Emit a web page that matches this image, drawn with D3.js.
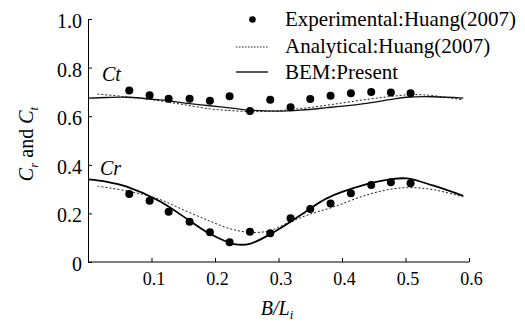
<!DOCTYPE html>
<html>
<head>
<meta charset="utf-8">
<script src="https://cdn.jsdelivr.net/npm/d3@7"></script>
</head>
<body style="margin:0;background:#fff">
<svg id="chart" width="525" height="324" font-family="Liberation Serif" style="display:block"></svg>
<script>
// Tick values
const xTicks = [0.1, 0.2, 0.3, 0.4, 0.5, 0.6];
const yTicks = [0, 0.2, 0.4, 0.6, 0.8, 1.0];

// Experimental data, Huang (2007)
const expB  = [0.065, 0.097, 0.127, 0.160, 0.192, 0.223, 0.255, 0.287, 0.319, 0.350, 0.382, 0.414, 0.446, 0.477, 0.508];
const expCt = [0.706, 0.686, 0.672, 0.672, 0.664, 0.682, 0.621, 0.668, 0.637, 0.671, 0.684, 0.694, 0.700, 0.698, 0.694];
const expCr = [0.280, 0.252, 0.207, 0.166, 0.122, 0.081, 0.125, 0.118, 0.180, 0.218, 0.241, 0.283, 0.317, 0.328, 0.324];

// Analytical solution, Huang (2007)
const anaB  = [0.015, 0.060, 0.108, 0.150, 0.192, 0.225, 0.255, 0.285, 0.318, 0.350, 0.386, 0.439, 0.480, 0.512, 0.545, 0.591];
const anaCt = [0.691, 0.680, 0.665, 0.648, 0.630, 0.623, 0.619, 0.620, 0.627, 0.636, 0.649, 0.669, 0.682, 0.689, 0.684, 0.667];
const anaCr = [0.312, 0.293, 0.262, 0.215, 0.168, 0.136, 0.122, 0.128, 0.165, 0.197, 0.226, 0.276, 0.301, 0.306, 0.297, 0.268];

// BEM results (present)
const bemB  = [0.000, 0.030, 0.061, 0.113, 0.160, 0.192, 0.230, 0.255, 0.297, 0.335, 0.376, 0.439, 0.475, 0.502, 0.543, 0.591];
const bemCt = [0.674, 0.677, 0.678, 0.667, 0.652, 0.643, 0.632, 0.625, 0.621, 0.625, 0.635, 0.653, 0.668, 0.678, 0.680, 0.674];
const bemCr = [0.340, 0.330, 0.310, 0.250, 0.170, 0.116, 0.074, 0.075, 0.130, 0.193, 0.262, 0.320, 0.340, 0.344, 0.315, 0.272];

const FONT = "Liberation Serif";
const svg = d3.select("#chart");
const x = d3.scaleLinear().domain([0, 0.6]).range([88, 469]);
const y = d3.scaleLinear().domain([0, 1.0]).range([262, 19]);

// Axes with inward ticks
const xAxis = svg.append("g").attr("transform", `translate(0,${y(0)})`)
  .call(d3.axisBottom(x).tickValues(xTicks).tickSizeInner(-4).tickSizeOuter(0).tickFormat(d3.format(".1f")));
xAxis.attr("font-family", FONT).attr("font-size", 18);
xAxis.select(".domain").attr("d", `M${x(0)},0H${x(0.6)}`);
xAxis.selectAll("text").attr("y", 23).attr("dy", 0).attr("dx", 2);

const yAxis = svg.append("g").attr("transform", `translate(${x(0)},0)`)
  .call(d3.axisLeft(y).tickValues(yTicks).tickSizeInner(-4).tickSizeOuter(0)
    .tickFormat(d => d === 0 ? "0" : d3.format(".1f")(d)));
yAxis.attr("font-family", FONT).attr("font-size", 20);
yAxis.selectAll("text").attr("x", -6).attr("dy", "0.42em");
svg.selectAll(".domain, .tick line").attr("stroke", "#000").attr("stroke-width", 1);

// Curves
const lineOf = (xs, ys) => d3.line().curve(d3.curveCatmullRom.alpha(0.5))
  .x((d, i) => x(xs[i])).y(d => y(d))(ys);

const curves = [
  { xs: anaB, ys: anaCt, dash: "2,2", w: 1, c: "#222" },
  { xs: anaB, ys: anaCr, dash: "2,2", w: 1, c: "#222" },
  { xs: bemB, ys: bemCt, dash: null, w: 1.3, c: "#111" },
  { xs: bemB, ys: bemCr, dash: null, w: 1.8, c: "#000" }
];
svg.append("g").selectAll("path").data(curves).join("path")
  .attr("d", d => lineOf(d.xs, d.ys))
  .attr("fill", "none")
  .attr("stroke", d => d.c)
  .attr("stroke-width", d => d.w)
  .attr("stroke-dasharray", d => d.dash);

// Experimental points
const pts = svg.append("g");
pts.selectAll("circle.ct").data(expCt).join("circle").attr("class", "ct")
  .attr("cx", (d, i) => x(expB[i])).attr("cy", d => y(d)).attr("r", 4).attr("fill", "#000");
pts.selectAll("circle.cr").data(expCr).join("circle").attr("class", "cr")
  .attr("cx", (d, i) => x(expB[i])).attr("cy", d => y(d)).attr("r", 4).attr("fill", "#000");

// Curve labels
svg.append("text").attr("x", 102).attr("y", 81).attr("font-family", FONT)
  .attr("font-size", 20).attr("font-style", "italic").text("Ct");
svg.append("text").attr("x", 100).attr("y", 175).attr("font-family", FONT)
  .attr("font-size", 20).attr("font-style", "italic").text("Cr");

// Legend
const legend = svg.append("g").attr("font-family", FONT).attr("font-size", 21);
legend.append("circle").attr("cx", 252.5).attr("cy", 19.5).attr("r", 3.3).attr("fill", "#000");
legend.append("text").attr("x", 285).attr("y", 26).text("Experimental:Huang(2007)");
legend.append("line").attr("x1", 236).attr("x2", 268).attr("y1", 47).attr("y2", 47)
  .attr("stroke", "#222").attr("stroke-width", 1).attr("stroke-dasharray", "1.5,1.5");
legend.append("text").attr("x", 285).attr("y", 53).text("Analytical:Huang(2007)");
legend.append("line").attr("x1", 236).attr("x2", 268).attr("y1", 72).attr("y2", 72)
  .attr("stroke", "#000").attr("stroke-width", 1.3);
legend.append("text").attr("x", 285).attr("y", 79).text("BEM:Present");

// Axis titles
const yt = svg.append("text").attr("transform", "translate(33,144) rotate(-90)")
  .attr("text-anchor", "middle").attr("font-family", FONT).attr("font-size", 20);
yt.append("tspan").attr("font-style", "italic").text("C");
yt.append("tspan").attr("dy", 5).attr("font-size", 13).attr("font-style", "italic").text("r");
yt.append("tspan").attr("dy", -5).text(" and ");
yt.append("tspan").attr("font-style", "italic").text("C");
yt.append("tspan").attr("dy", 5).attr("font-size", 13).attr("font-style", "italic").text("t");

const xt = svg.append("text").attr("x", 277).attr("y", 315)
  .attr("text-anchor", "middle").attr("font-family", FONT).attr("font-size", 20).attr("font-style", "italic");
xt.append("tspan").text("B/L");
xt.append("tspan").attr("dy", 4).attr("font-size", 13).text("i");
</script>
</body>
</html>
